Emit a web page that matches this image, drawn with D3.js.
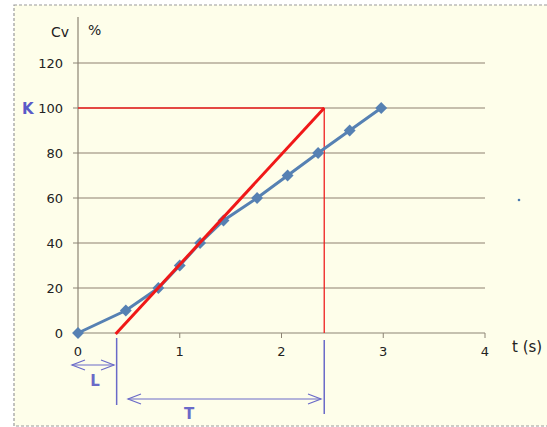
<!DOCTYPE html>
<html><head><meta charset="utf-8">
<script src="https://cdn.jsdelivr.net/npm/d3@7"></script>
<style>body{margin:0;background:#fff}svg{display:block}</style>
</head><body>
<script>
const times = [0, 0.47, 0.79, 1.0, 1.2, 1.43, 1.76, 2.06, 2.36, 2.67, 2.98];
const cvValues = [0, 10, 20, 30, 40, 50, 60, 70, 80, 90, 100];
const xTicks = [0, 1, 2, 3, 4];
const yTicks = [0, 20, 40, 60, 80, 100, 120];
const tangentT = [0.37, 2.42];
const tangentCv = [0, 100];
const K = 100;
const Lval = 0.37, Tend = 2.42;

const W = 547, H = 427;
const svg = d3.select("body").append("svg").attr("width", W).attr("height", H);
svg.append("rect").attr("x",0).attr("y",0).attr("width",W).attr("height",H).attr("fill","#fff");
svg.append("rect").attr("x",14).attr("y",5).attr("width",W+10).attr("height",421)
  .attr("fill","#fefeea").attr("stroke","#9a9a9a").attr("stroke-dasharray","3,2").attr("stroke-width",1.2);

const x = d3.scaleLinear().domain([0,4]).range([78,485]);
const y = d3.scaleLinear().domain([0,120]).range([333,63]);
const font = "DejaVu Sans, Verdana, sans-serif";

// gridlines
svg.append("g").selectAll("line").data(yTicks.filter(d=>d>0)).join("line")
  .attr("x1",x(0)).attr("x2",x(4)).attr("y1",d=>y(d)).attr("y2",d=>y(d))
  .attr("stroke","#b3aa98").attr("stroke-width",1.5);

// y axis
svg.append("line").attr("x1",x(0)).attr("x2",x(0)).attr("y1",17).attr("y2",y(0))
  .attr("stroke","#8c8474").attr("stroke-width",1.2);
svg.append("g").selectAll("line").data(yTicks).join("line")
  .attr("x1",x(0)-5).attr("x2",x(0)).attr("y1",d=>y(d)).attr("y2",d=>y(d))
  .attr("stroke","#8c8474");
svg.append("g").selectAll("text").data(yTicks).join("text")
  .attr("x",x(0)-15).attr("y",d=>y(d)+5).attr("text-anchor","end")
  .attr("font-family",font).attr("font-size",13).attr("fill","#222").text(d=>d);

// x axis
svg.append("line").attr("x1",x(0)).attr("x2",x(4)).attr("y1",y(0)).attr("y2",y(0))
  .attr("stroke","#8c8474").attr("stroke-width",1.2);
svg.append("g").selectAll("line").data(xTicks).join("line")
  .attr("x1",d=>x(d)).attr("x2",d=>x(d)).attr("y1",y(0)).attr("y2",y(0)+5)
  .attr("stroke","#8c8474");
svg.append("g").selectAll("text").data(xTicks).join("text")
  .attr("x",d=>x(d)).attr("y",y(0)+23).attr("text-anchor","middle")
  .attr("font-family",font).attr("font-size",13).attr("fill","#222").text(d=>d);

// labels
svg.append("text").attr("x",69).attr("y",37).attr("text-anchor","end").attr("font-family",font).attr("font-size",14).attr("fill","#222").text("Cv");
svg.append("text").attr("x",88).attr("y",35).attr("font-family",font).attr("font-size",14).attr("fill","#222").text("%");
svg.append("text").attr("x",512).attr("y",352).attr("font-family",font).attr("font-size",15).attr("fill","#222").text("t (s)");
svg.append("text").attr("x",22).attr("y",y(K)+6).attr("font-family",font).attr("font-size",15).attr("font-weight","bold").attr("fill","#5a5ac8").text("K");
svg.append("circle").attr("cx",519).attr("cy",200).attr("r",1.3).attr("fill","#4a7ab0");

// red construction lines
svg.append("line").attr("x1",x(0)).attr("x2",x(Tend)).attr("y1",y(K)).attr("y2",y(K)).attr("stroke","#ee2020").attr("stroke-width",1.3);
svg.append("line").attr("x1",x(Tend)).attr("x2",x(Tend)).attr("y1",y(K)).attr("y2",y(0)).attr("stroke","#ee2020").attr("stroke-width",1.3);

// data line
const pts = times.map((t,i)=>[t,cvValues[i]]);
svg.append("path").datum(pts).attr("fill","none").attr("stroke","#5681b3").attr("stroke-width",3)
  .attr("d", d3.line().x(d=>x(d[0])).y(d=>y(d[1])));
svg.append("g").selectAll("path").data(pts).join("path")
  .attr("transform",d=>`translate(${x(d[0])},${y(d[1])})`)
  .attr("d", d3.symbol(d3.symbolDiamond2, 90))
  .attr("fill","#5681b3");

// tangent
svg.append("line").attr("x1",x(tangentT[0])).attr("y1",y(tangentCv[0])+1).attr("x2",x(tangentT[1])).attr("y2",y(tangentCv[1]))
  .attr("stroke","#f01818").attr("stroke-width",3);

// L and T annotations
const ac = "#6a6ac8";
svg.append("line").attr("x1",x(Lval)+1).attr("x2",x(Lval)+1).attr("y1",338).attr("y2",405).attr("stroke",ac).attr("stroke-width",1.5);
svg.append("line").attr("x1",x(Tend)).attr("x2",x(Tend)).attr("y1",340).attr("y2",414).attr("stroke",ac).attr("stroke-width",1.5);
function arrow(x1,x2,yy){
  const g = svg.append("g").attr("stroke",ac).attr("stroke-width",1.2).attr("fill","none");
  g.append("line").attr("x1",x1).attr("x2",x2).attr("y1",yy).attr("y2",yy);
  g.append("path").attr("d",`M${x1+13},${yy-5}L${x1},${yy}L${x1+13},${yy+5}`);
  g.append("path").attr("d",`M${x2-13},${yy-5}L${x2},${yy}L${x2-13},${yy+5}`);
}
arrow(72,114,365);
arrow(128,321,399);
svg.append("text").attr("x",95).attr("y",386).attr("text-anchor","middle").attr("font-family",font).attr("font-size",15).attr("font-weight","bold").attr("fill",ac).text("L");
svg.append("text").attr("x",189).attr("y",419).attr("text-anchor","middle").attr("font-family",font).attr("font-size",15).attr("font-weight","bold").attr("fill",ac).text("T");
</script>
</body></html>
